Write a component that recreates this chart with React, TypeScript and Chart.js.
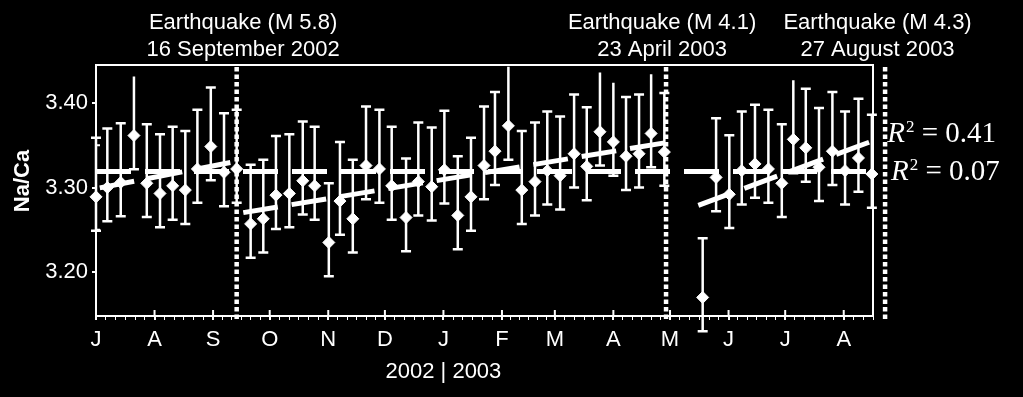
import React, { useEffect, useRef } from 'react';
import { Chart, registerables } from 'chart.js';

Chart.register(...registerables);

const FONT = "'Liberation Sans', Arial, Helvetica, sans-serif";
const SERIF = "'Liberation Serif', 'Times New Roman', serif";

// x axis: days since 1 July 2002
const monthLabels = ['J', 'A', 'S', 'O', 'N', 'D', 'J', 'F', 'M', 'A', 'M', 'J', 'J', 'A'];
const monthStartDays = [0, 31, 62, 92, 123, 153, 184, 215, 243, 274, 304, 335, 365, 396];
const lastMonthEndDay = 427;
const axisStartDay = 0;
const axisEndDay = 411.5;
const yearBoundaryDay = 184;
const yearLabel = '2002 | 2003';

// y axis
const yMin = 3.148;
const yMax = 3.445;
const yTickValues = [3.2, 3.3, 3.4];
const yMinorTickValues = [3.25, 3.35];
const yAxisTitle = 'Na/Ca';

// weekly samples
const sampleDays = [
  0, 6.0, 13.1, 20.1, 26.9, 33.9, 40.6, 47.3, 53.7, 60.8, 67.8, 74.5,
  81.9, 88.6, 95.3, 102.4, 109.5, 115.8, 123.3, 129.2, 136.0, 143.0, 150.1, 156.6,
  164.2, 170.7, 177.8, 184.5, 191.6, 198.6, 205.5, 211.3, 218.4, 225.5, 232.5, 239.0,
  245.8, 253.2, 259.9, 266.9, 274.0, 280.7, 287.6, 294.0, 301.0,
  321.3, 328.4, 335.4, 342.0, 349.0, 356.1, 363.2, 369.3, 375.9, 382.9, 390.0, 396.7,
  403.8, 410.9,
];
const naCaValues = [
  3.289, 3.300, 3.306, 3.3615, 3.305, 3.293, 3.302, 3.297, 3.322, 3.3485, 3.318, 3.322,
  3.257, 3.263, 3.291, 3.293, 3.308, 3.302, 3.235, 3.284, 3.263, 3.326, 3.322, 3.302,
  3.2645, 3.307, 3.301, 3.321, 3.267, 3.289, 3.326, 3.343, 3.373, 3.297, 3.307, 3.320,
  3.314, 3.340, 3.325, 3.366, 3.354, 3.337, 3.340, 3.364, 3.342,
  3.170, 3.312, 3.292, 3.320, 3.328, 3.322, 3.305, 3.357, 3.347, 3.324, 3.343, 3.320,
  3.335, 3.316,
];
const errorUp = 0.070;
const errorDown = 0.040;
const capCeiling = 3.423;

// fits
const meanFitDays = [0, 411.5];
const meanFitValues = [3.319, 3.319];
const trendSegmentDays = [[2, 75], [78, 302], [319, 411]];
const trendSegmentValues = [[3.2996, 3.3313], [3.2703, 3.3532], [3.279, 3.3549]];

// earthquakes
const quakeDays = [74.5, 301.9, 417.9];
const quakeTitles = ['Earthquake (M 5.8)', 'Earthquake (M 4.1)', 'Earthquake (M 4.3)'];
const quakeDates = ['16 September 2002', '23 April 2003', '27 August 2003'];
const quakeLabelDays = [77.9, 299.8, 413.9];

// R² labels
const r2Texts = ['0.41', '0.07'];
const r2AnchorDays = [419, 421];
const r2AnchorValues = [3.354, 3.309];

function buildXTicks() {
  const ticks: { value: number; major: boolean }[] = [];
  monthStartDays.forEach((start, i) => {
    ticks.push({ value: start, major: true });
    const end = i + 1 < monthStartDays.length ? monthStartDays[i + 1] : lastMonthEndDay;
    for (let k = 1; k <= 5; k++) {
      const v = start + (k * (end - start)) / 6;
      if (v <= axisEndDay + 0.01) ticks.push({ value: v, major: false });
    }
  });
  return ticks;
}

const overlayPlugin = {
  id: 'overlay',
  beforeDatasetsDraw(chart: any) {
    const { ctx } = chart;
    const xs = chart.scales.x;
    const ys = chart.scales.y;
    ctx.save();
    ctx.strokeStyle = '#fff';
    ctx.lineWidth = 2.5;
    const half = 5;
    sampleDays.forEach((d, i) => {
      const x = xs.getPixelForValue(d);
      const hiV = naCaValues[i] + errorUp;
      const hi = ys.getPixelForValue(hiV);
      const lo = ys.getPixelForValue(naCaValues[i] - errorDown);
      ctx.beginPath();
      ctx.moveTo(x, hi);
      ctx.lineTo(x, lo);
      if (hiV <= capCeiling) {
        ctx.moveTo(x - half, hi);
        ctx.lineTo(x + half, hi);
      }
      ctx.moveTo(x - half, lo);
      ctx.lineTo(x + half, lo);
      ctx.stroke();
    });
    ctx.restore();
  },
  afterDraw(chart: any) {
    const { ctx, chartArea } = chart;
    const xs = chart.scales.x;
    const ys = chart.scales.y;
    const { left, right, top, bottom } = chartArea;
    ctx.save();
    ctx.strokeStyle = '#fff';
    ctx.fillStyle = '#fff';

    // frame
    ctx.lineWidth = 2;
    ctx.strokeRect(left, top, right - left, bottom - top);

    // inward part of month ticks
    ctx.beginPath();
    monthStartDays.forEach((d) => {
      const x = xs.getPixelForValue(d);
      ctx.moveTo(x, bottom);
      ctx.lineTo(x, bottom - 6);
    });
    ctx.stroke();
    // inward minor y ticks
    ctx.beginPath();
    yMinorTickValues.forEach((v) => {
      const y = ys.getPixelForValue(v);
      ctx.moveTo(left, y);
      ctx.lineTo(left + 4, y);
    });
    ctx.stroke();

    // earthquake dotted lines
    ctx.save();
    ctx.lineWidth = 4.5;
    ctx.setLineDash([4.5, 3]);
    quakeDays.forEach((d) => {
      const x = xs.getPixelForValue(d);
      ctx.beginPath();
      ctx.moveTo(x, top + 2);
      ctx.lineTo(x, bottom + 3);
      ctx.stroke();
    });
    ctx.restore();

    // earthquake labels
    ctx.font = `22px ${FONT}`;
    ctx.textAlign = 'center';
    ctx.textBaseline = 'alphabetic';
    quakeLabelDays.forEach((d, i) => {
      const x = xs.getPixelForValue(d);
      ctx.fillText(quakeTitles[i], x, 29);
      ctx.fillText(quakeDates[i], x, 56);
    });

    // year label
    ctx.fillText(yearLabel, xs.getPixelForValue(yearBoundaryDay), 378);

    // y axis title
    ctx.save();
    ctx.translate(22.5, 181);
    ctx.rotate(-Math.PI / 2);
    ctx.font = `bold 22px ${FONT}`;
    ctx.textBaseline = 'middle';
    ctx.textAlign = 'center';
    ctx.fillText(yAxisTitle, 0, 0);
    ctx.restore();

    // R² labels
    ctx.textAlign = 'left';
    ctx.textBaseline = 'alphabetic';
    r2Texts.forEach((t, i) => {
      let x = xs.getPixelForValue(r2AnchorDays[i]);
      const y = ys.getPixelForValue(r2AnchorValues[i]);
      ctx.font = `italic 29px ${SERIF}`;
      ctx.fillText('R', x, y);
      x += ctx.measureText('R').width + 1;
      ctx.font = `17px ${SERIF}`;
      ctx.fillText('2', x, y - 10);
      x += ctx.measureText('2').width;
      ctx.font = `29px ${SERIF}`;
      ctx.fillText(' = ' + t, x, y);
    });

    ctx.restore();
  },
};

export default function App() {
  const canvasRef = useRef<HTMLCanvasElement | null>(null);

  useEffect(() => {
    document.body.style.margin = '0';
    document.body.style.background = '#000';
    const canvas = canvasRef.current;
    if (!canvas) return;

    const lineStyle = {
      borderColor: '#fff',
      borderWidth: 5,
      borderDash: [35, 14],
      pointRadius: 0,
      fill: false,
      tension: 0,
    };

    const datasets: any[] = [
      {
        type: 'line',
        label: 'mean',
        data: meanFitDays.map((d, i) => ({ x: d, y: meanFitValues[i] })),
        ...lineStyle,
      },
      ...trendSegmentDays.map((days, s) => ({
        type: 'line',
        label: 'trend ' + s,
        data: days.map((d, i) => ({ x: d, y: trendSegmentValues[s][i] })),
        ...lineStyle,
      })),
      {
        type: 'scatter',
        label: 'Na/Ca',
        data: sampleDays.map((d, i) => ({ x: d, y: naCaValues[i] })),
        pointStyle: 'rectRot',
        pointRadius: 6,
        borderWidth: 1,
        backgroundColor: '#fff',
        borderColor: '#fff',
        clip: false,
      },
    ];

    const chart = new Chart(canvas, {
      type: 'scatter',
      data: { datasets },
      options: {
        animation: false,
        responsive: false,
        devicePixelRatio: 1,
        layout: { padding: { left: 0, top: 65, right: 150, bottom: 21 } },
        plugins: {
          legend: { display: false },
          tooltip: { enabled: false },
          title: { display: false },
        },
        scales: {
          x: {
            type: 'linear',
            position: 'bottom',
            min: axisStartDay,
            max: axisEndDay,
            afterBuildTicks: (scale: any) => {
              scale.ticks = buildXTicks();
            },
            afterFit: (scale: any) => {
              scale.height = 60;
            },
            border: { display: false },
            grid: {
              drawOnChartArea: false,
              drawTicks: true,
              tickLength: 4,
              color: '#fff',
              lineWidth: (c: any) => (c.tick && c.tick.major ? 2 : 1),
            },
            ticks: {
              autoSkip: false,
              maxRotation: 0,
              minRotation: 0,
              padding: 7,
              color: '#fff',
              font: { family: FONT, size: 22 },
              callback: (value: any) => {
                const i = monthStartDays.indexOf(Number(value));
                return i >= 0 ? monthLabels[i] : '';
              },
            },
          },
          y: {
            type: 'linear',
            position: 'left',
            min: yMin,
            max: yMax,
            afterBuildTicks: (scale: any) => {
              scale.ticks = yTickValues.map((v) => ({ value: v }));
            },
            afterFit: (scale: any) => {
              scale.width = 96;
            },
            border: { display: false },
            grid: {
              drawOnChartArea: false,
              drawTicks: true,
              tickLength: 4,
              color: '#fff',
              lineWidth: 2,
            },
            ticks: {
              padding: 4,
              color: '#fff',
              font: { family: FONT, size: 22 },
              callback: (value: any) => Number(value).toFixed(2),
            },
          },
        },
      },
      plugins: [overlayPlugin],
    } as any);

    return () => chart.destroy();
  }, []);

  return (
    <div
      style={{
        position: 'fixed',
        left: 0,
        top: 0,
        width: 1023,
        height: 397,
        background: '#000',
      }}
    >
      <canvas ref={canvasRef} width={1023} height={397} style={{ display: 'block' }} />
    </div>
  );
}
